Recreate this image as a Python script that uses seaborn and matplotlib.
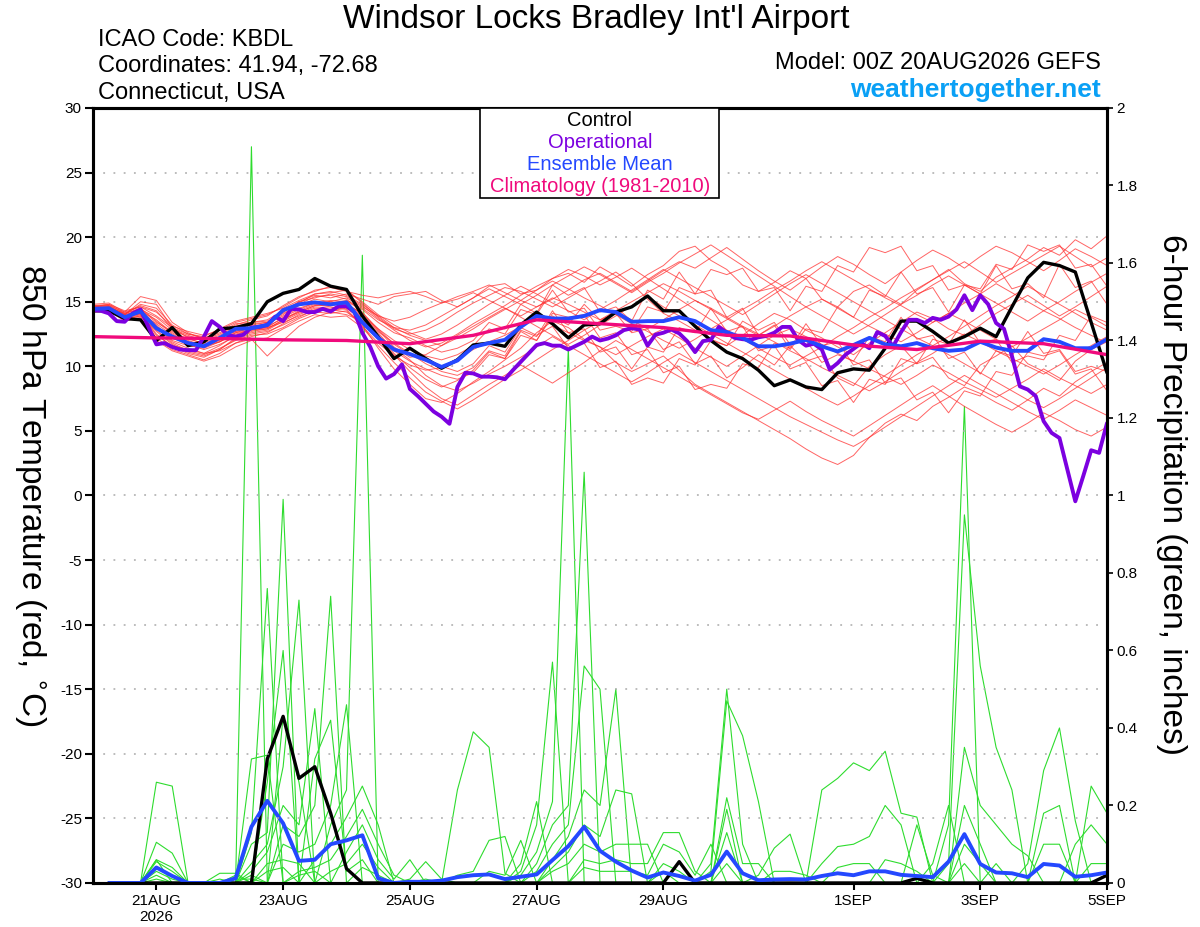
import numpy as np
import pandas as pd
import matplotlib
matplotlib.use('Agg')
import matplotlib.pyplot as plt
from matplotlib.patches import Rectangle
import seaborn as sns

sns.set_style('ticks')
plt.rcParams['font.family'] = ['Liberation Sans', 'DejaVu Sans']
plt.rcParams['axes.unicode_minus'] = False
for key in ['text.color', 'axes.labelcolor', 'xtick.color', 'ytick.color', 'axes.edgecolor']:
    plt.rcParams[key] = 'black'

# time axes (hours after 00Z 20AUG2026)
hours_t = np.arange(0, 385, 6)      # 6-hourly temperatures
hours_op = np.arange(0, 385, 3)     # 3-hourly operational run
hours_p = np.arange(6, 385, 6)      # 6-hour precip totals
hours_clim = np.arange(0, 385, 24)  # daily climatology

xtick_hours = [24, 72, 120, 168, 216, 288, 336, 384]
xtick_labels = ['21AUG\n2026', '23AUG', '25AUG', '27AUG', '29AUG', '1SEP', '3SEP', '5SEP']

# 850 hPa temperature, main lines
control_t = [14.3, 14.3, 13.7, 13.6, 12.0, 13.0, 11.6, 11.9, 12.9, 13.0,
             13.3, 15.0, 15.65, 15.95, 16.8, 16.2, 15.95, 13.9, 12.3, 10.6,
             11.4, 10.6, 9.85, 10.5, 11.65, 11.8, 11.55, 13.2, 14.2, 13.3,
             12.2, 13.2, 13.3, 14.2, 14.6, 15.45, 14.3, 14.3, 13.1, 12.0,
             11.1, 10.6, 9.7, 8.5, 8.95, 8.4, 8.2, 9.5, 9.8, 9.7,
             11.4, 13.5, 13.5, 12.7, 11.8, 12.3, 12.95, 12.3, 14.6, 16.85,
             18.05, 17.8, 17.3, 13.4, 9.5]

operational_t = [14.35, 14.3, 14.1, 13.5, 13.45, 14.1, 14.4, 13.05, 11.7, 11.8,
                 11.5, 11.3, 11.25, 11.25, 12.3, 13.5, 13.05, 12.4, 12.3, 12.45,
                 13.0, 13.05, 13.2, 13.85, 13.5, 14.45, 14.4, 14.2, 14.2, 14.45,
                 14.25, 14.65, 14.65, 14.2, 12.6, 11.5, 10.0, 9.05, 9.4, 10.15,
                 8.25, 7.7, 7.1, 6.5, 6.1, 5.55, 8.4, 9.5, 9.45, 9.2,
                 9.2, 9.15, 9.0, 9.7, 10.35, 11.0, 11.65, 11.8, 11.6, 11.6,
                 11.3, 11.6, 11.9, 12.3, 12.0, 12.15, 12.4, 12.8, 12.95, 12.85,
                 11.6, 12.45, 12.6, 12.85, 12.55, 11.95, 11.1, 11.95, 12.05, 13.05,
                 12.6, 12.2, 12.1, 12.05, 12.25, 12.35, 12.6, 13.05, 13.05, 12.05,
                 11.6, 11.75, 11.3, 9.75, 10.25, 10.9, 11.35, 11.8, 11.4, 12.65,
                 12.35, 11.55, 12.65, 13.6, 13.6, 13.35, 13.75, 13.6, 13.85, 14.4,
                 15.5, 14.35, 15.5, 14.8, 13.35, 12.9, 10.8, 8.45, 8.2, 7.7,
                 5.75, 4.85, 4.45, 2.0, -0.45, 1.5, 3.5, 3.3, 5.6]

mean_t = [14.45, 14.5, 13.8, 14.25, 12.95, 12.3, 11.8, 11.55, 12.2, 12.9,
          12.95, 13.2, 14.35, 14.8, 14.95, 14.8, 14.95, 13.4, 12.2, 11.3,
          10.95, 10.5, 9.95, 10.45, 11.5, 11.8, 12.05, 13.05, 13.9, 13.7,
          13.7, 13.9, 14.35, 14.2, 13.45, 13.5, 13.5, 13.8, 13.5, 12.8,
          12.65, 12.2, 11.55, 11.55, 11.75, 12.05, 11.55, 11.15, 11.65, 12.2,
          11.7, 11.55, 11.8, 11.4, 11.2, 11.3, 11.9, 11.45, 11.2, 11.2,
          12.1, 11.9, 11.4, 11.4, 12.1]

clim_t = [12.3, 12.2, 12.15, 12.05, 12.0, 11.75, 12.4, 13.6, 13.3,
          13.0, 12.4, 12.35, 11.65, 11.3, 11.95, 11.75, 10.9]

# 850 hPa temperature, ensemble members
t_mem01 = [14.6, 14.7, 14.0, 14.3, 13.2, 12.0, 11.6, 11.4, 11.9, 12.6, 13.0, 13.3, 14.2, 15.0, 15.5, 15.3, 15.6, 15.2, 14.8, 15.4, 15.6, 15.8, 15.1, 14.6, 15.3, 16.2, 16.4, 15.6, 15.9, 16.8, 17.2, 16.5, 17.7, 17.0, 16.2, 17.1, 17.8, 18.9, 19.3, 18.2, 17.5, 16.3, 15.8, 16.5, 17.4, 16.8, 15.2, 14.6, 15.8, 16.3, 15.5, 14.8, 15.9, 16.7, 17.5, 16.4, 15.8, 16.9, 17.6, 18.3, 19.2, 18.6, 19.8, 19.1, 20.1]
t_mem02 = [14.4, 14.5, 13.8, 14.1, 12.5, 11.5, 11.0, 10.7, 11.3, 12.2, 12.7, 12.9, 13.6, 14.3, 14.8, 14.6, 14.4, 13.2, 11.4, 9.8, 8.6, 7.5, 7.2, 7.9, 8.8, 9.6, 10.5, 11.4, 12.6, 13.5, 13.0, 12.1, 11.5, 10.3, 9.6, 10.2, 10.8, 9.7, 8.6, 7.9, 7.2, 6.5, 5.8, 5.1, 4.4, 3.6, 2.9, 2.4, 3.1, 4.5, 5.6, 6.3, 5.8, 6.9, 7.6, 8.4, 7.9, 7.2, 6.6, 7.4, 8.3, 7.7, 8.8, 9.6, 10.3]
t_mem03 = [14.8, 14.9, 14.2, 15.4, 15.1, 13.4, 12.6, 12.1, 12.5, 13.2, 13.6, 13.9, 14.7, 15.4, 15.8, 16.2, 15.9, 14.9, 13.8, 12.9, 12.5, 12.8, 13.4, 14.2, 14.9, 15.5, 16.1, 15.8, 15.2, 14.6, 15.3, 16.0, 16.6, 17.3, 16.4, 15.2, 14.1, 13.5, 12.8, 12.1, 11.6, 12.4, 13.3, 14.1, 13.6, 12.8, 12.2, 11.5, 10.9, 11.8, 12.6, 13.4, 14.2, 13.7, 12.9, 12.4, 13.2, 14.1, 14.8, 15.5, 14.7, 13.9, 14.6, 15.4, 16.2]
t_mem04 = [14.3, 14.4, 13.9, 14.0, 12.2, 11.3, 10.9, 10.5, 11.0, 11.8, 12.3, 12.6, 13.3, 14.0, 14.5, 14.4, 14.6, 13.8, 12.6, 11.2, 10.4, 9.8, 9.3, 9.0,
           9.5, 10.9, 10.6, 12.4, 12.0, 13.9, 13.2, 14.8, 13.6, 14.1, 12.6, 12.9, 11.3, 11.9, 10.2, 10.8, 9.1, 9.9, 10.9, 10.1,
           11.6, 10.4, 10.8, 9.1, 8.5, 10.0, 10.9, 11.6, 10.2, 10.7, 9.1, 8.5, 10.1, 10.8, 11.6, 10.2, 9.6, 8.9, 10.4, 11.3, 11.9]
t_mem05 = [14.6, 14.7, 13.6, 14.4, 13.8, 12.8, 12.3, 12.0, 12.4, 13.1, 13.4, 13.5, 14.1, 14.7, 15.2, 15.0, 15.3, 14.6, 13.9, 13.5, 13.8, 14.4, 14.9, 15.4, 15.8, 16.3, 15.7, 15.1, 14.6, 15.2, 15.9, 16.7, 17.2, 16.5, 15.8, 16.6, 17.4, 18.1, 17.6, 18.4, 19.2, 18.3, 17.4, 16.6, 15.9, 16.8, 17.7, 18.5, 17.9, 17.1, 16.4, 17.3, 18.2, 19.0, 18.4, 17.6, 18.5, 19.3, 18.8, 18.1, 17.4, 18.2, 19.1, 18.5, 17.8]
t_mem06 = [14.2, 14.4, 13.7, 13.9, 12.8, 11.8, 11.2, 10.9, 11.4, 12.0, 12.4, 12.5, 13.0, 13.7, 14.2, 14.1, 14.3, 13.1, 11.8, 10.8, 10.1, 9.7, 9.9, 10.6, 11.3, 11.9, 12.4, 13.1, 13.8, 13.2, 12.6, 12.0, 11.5, 10.9, 11.6, 12.3, 12.9, 12.2, 11.4, 10.7, 10.0, 10.8, 11.6, 12.4, 12.9, 12.3, 11.7, 11.0, 10.4, 9.8, 9.2, 8.6, 9.3, 10.1, 9.5, 8.8, 8.2, 7.6, 8.3, 9.0, 9.8, 9.1, 8.5, 7.9, 8.6]
t_mem07 = [14.5, 14.5, 14.1, 14.5, 13.5, 12.5, 11.9, 11.5, 11.9, 12.5, 12.8, 13.0, 13.8, 14.4, 14.9, 15.1, 15.0, 14.4, 13.4, 12.6, 12.2, 11.6, 11.1, 11.4,
           12.0, 13.4, 12.9, 14.8, 14.1, 16.3, 15.5, 16.1, 14.2, 14.6, 13.5, 15.9, 15.2, 17.3, 15.6, 15.9, 13.8, 14.5, 12.4, 13.2,
           11.3, 12.9, 12.6, 14.6, 13.8, 15.9, 15.4, 17.3, 15.6, 16.1, 14.2, 16.3, 15.6, 17.8, 16.0, 16.4, 15.3, 17.9, 16.1, 16.6, 14.8]
t_mem08 = [14.4, 14.6, 13.8, 14.1, 13.1, 11.9, 11.4, 11.0, 11.2, 11.8, 12.1, 10.8, 12.0, 13.1, 13.8, 14.2, 14.0, 13.5, 12.1, 10.9, 9.6, 8.4, 7.5, 7.0, 7.8, 8.6, 9.3, 10.1, 9.4, 8.7, 9.5, 10.3, 11.2, 12.0, 11.3, 10.6, 9.9, 9.2, 8.5, 7.8, 7.1, 6.4, 5.9, 6.6, 7.3, 6.5, 5.8, 5.2, 4.6, 5.4, 6.2, 7.0, 7.8, 8.5, 7.7, 6.9, 6.2, 5.5, 4.9, 5.6, 6.4, 5.8, 5.1, 4.6, 5.3]
t_mem09 = [14.7, 14.8, 14.3, 14.6, 14.2, 13.1, 12.7, 12.4, 12.8, 13.4, 13.7, 14.0, 14.6, 15.3, 15.9, 16.1, 15.8, 15.5, 15.3, 15.6, 15.8, 15.4, 14.9, 15.2, 15.7, 15.1, 14.5, 13.9, 14.6, 15.3, 14.8, 14.2, 13.6, 14.3, 15.0, 15.7, 16.4, 15.8, 15.1, 14.4, 13.7, 13.0, 12.4, 13.1, 13.9, 14.6, 15.2, 14.5, 13.8, 13.1, 12.5, 11.9, 12.6, 13.4, 14.1, 13.5, 12.8, 12.1, 11.5, 12.2, 12.9, 13.6, 14.4, 13.8, 13.1]
t_mem10 = [14.3, 14.3, 13.5, 13.8, 12.0, 11.2, 10.8, 10.4, 10.8, 11.5, 12.0, 12.2, 12.9, 13.5, 14.0, 13.8, 13.9, 13.0, 11.6, 10.3, 9.1, 8.0, 7.3, 6.7, 7.4, 8.2, 9.0, 9.7, 10.5, 11.3, 12.0, 12.8, 13.5, 14.2, 13.6, 12.9, 13.6, 14.4, 15.1, 14.5, 13.8, 13.1, 12.5, 11.9, 11.2, 10.6, 9.9, 9.3, 8.7, 8.1, 8.8, 9.6, 10.3, 11.0, 11.8, 12.5, 11.9, 11.2, 10.6, 10.0, 9.4, 10.1, 10.9, 11.6, 12.3]
t_mem11 = [14.6, 14.6, 14.0, 14.8, 14.5, 13.2, 12.5, 12.2, 12.6, 13.3, 13.4, 13.6, 14.3, 15.0, 15.3, 15.6, 15.4, 14.7, 13.7, 12.8, 12.0, 11.5, 11.8, 12.5, 13.3, 14.0, 14.7, 15.5, 16.2, 16.8, 17.5, 17.0, 16.3, 16.9, 17.6, 16.8, 16.0, 15.2, 14.4, 13.6, 12.8, 12.1, 11.4, 10.7, 10.1, 10.8, 11.5, 12.3, 13.0, 13.8, 14.5, 15.3, 16.0, 16.7, 17.4, 18.1, 17.3, 16.5, 17.2, 17.9, 18.6, 19.3, 18.5, 17.7, 18.4]
t_mem12 = [14.5, 14.5, 13.9, 14.2, 12.9, 12.2, 11.7, 11.3, 11.7, 12.3, 12.6, 12.8, 13.5, 14.1, 14.6, 14.5, 14.8, 14.1, 12.9, 11.7, 10.9, 10.4, 10.0, 9.6,
           10.2, 11.6, 11.1, 13.0, 12.4, 13.1, 11.4, 11.8, 9.9, 10.4, 8.6, 9.1, 8.7, 10.6, 10.1, 12.0, 11.6, 13.5, 12.8, 13.4,
           11.7, 12.0, 10.3, 10.9, 10.4, 12.3, 11.9, 13.8, 12.1, 12.4, 10.6, 11.1, 9.4, 11.2, 10.8, 12.7, 11.0, 11.3, 9.6, 10.0, 9.6]
t_mem13 = [14.4, 14.5, 14.0, 15.0, 14.8, 13.0, 12.2, 11.7, 12.1, 12.9, 13.3, 13.4, 14.0, 14.8, 15.4, 15.5, 15.2, 14.2, 12.8, 11.5, 10.7, 10.9, 11.6, 12.4, 13.1, 13.8, 14.5, 13.8, 13.1, 12.4, 11.7, 12.4, 13.2, 13.9, 14.7, 15.4, 14.6, 13.9, 13.2, 12.5, 11.8, 11.1, 10.4, 9.7, 9.0, 8.3, 7.6, 7.0, 7.7, 8.5, 9.3, 10.1, 10.9, 11.6, 10.9, 10.2, 9.5, 8.8, 8.1, 7.4, 6.8, 7.5, 8.3, 9.1, 9.9]
t_mem14 = [14.6, 14.8, 14.1, 14.4, 13.4, 12.7, 12.1, 11.8, 12.3, 12.7, 12.9, 13.1, 13.7, 14.2, 14.7, 14.9, 15.1, 14.5, 13.6, 13.0, 12.8, 13.2, 13.9, 14.6, 15.3, 16.0, 15.4, 14.8, 15.5, 16.3, 17.0, 17.7, 17.1, 16.4, 15.7, 16.5, 17.2, 18.0, 18.7, 19.4, 18.6, 17.8, 17.0, 16.2, 15.4, 14.6, 13.9, 13.2, 12.5, 13.2, 14.0, 14.8, 15.5, 16.3, 17.0, 16.3, 15.6, 14.9, 14.2, 13.5, 14.3, 15.0, 15.8, 16.5, 17.2]
t_mem15 = [14.3, 14.4, 13.7, 14.0, 12.4, 11.6, 11.3, 11.0, 11.6, 12.4, 12.9, 13.0, 13.4, 13.9, 14.3, 14.4, 14.2, 13.4, 12.4, 11.4, 10.5, 9.3, 8.5, 8.1, 8.7, 9.4, 10.0, 10.7, 11.5, 12.3, 11.6, 10.9, 10.2, 9.5, 8.8, 9.5, 10.3, 11.0, 10.3, 9.6, 8.9, 8.2, 7.5, 6.8, 6.1, 5.5, 4.9, 4.3, 3.8, 4.5, 5.3, 6.1, 6.9, 7.7, 8.5, 9.3, 8.6, 7.9, 7.2, 6.5, 5.9, 6.6, 7.4, 6.8, 6.2]
t_mem16 = [14.5, 14.6, 14.0, 14.3, 13.6, 12.6, 12.0, 11.6, 12.0, 12.7, 13.1, 13.3, 13.9, 14.5, 14.9, 15.0, 14.7, 13.9, 12.9, 12.0, 11.3, 10.8, 10.5, 10.9,
           11.6, 12.9, 12.5, 14.4, 14.0, 15.9, 14.2, 14.5, 12.8, 13.1, 12.7, 14.6, 14.2, 16.1, 15.6, 17.5, 17.1, 17.6, 15.8, 16.1,
           14.3, 16.2, 15.8, 17.8, 17.3, 19.2, 18.8, 19.3, 17.4, 17.8, 15.9, 16.3, 16.0, 17.9, 17.5, 19.4, 18.9, 19.4, 17.6, 17.9, 16.2]
t_mem17 = [14.7, 14.7, 14.2, 14.6, 13.9, 13.0, 12.5, 12.3, 12.9, 13.5, 13.8, 14.1, 14.5, 15.1, 15.6, 15.7, 15.9, 15.0, 14.0, 13.2, 12.6, 12.1, 12.5, 13.2, 14.0, 14.8, 15.5, 16.2, 15.6, 14.9, 14.3, 13.6, 14.4, 15.1, 15.9, 16.7, 17.5, 16.8, 16.1, 15.4, 14.7, 14.0, 14.8, 15.6, 16.4, 17.1, 16.4, 15.7, 15.0, 14.3, 13.6, 12.9, 12.2, 11.6, 12.3, 13.1, 13.9, 14.7, 15.4, 16.2, 15.5, 14.8, 14.1, 13.4, 12.8]
t_mem18 = [14.2, 14.3, 13.6, 13.9, 12.7, 11.7, 11.1, 10.8, 11.3, 12.1, 12.5, 12.7, 13.2, 13.8, 14.4, 14.3, 14.5, 13.6, 12.3, 11.0, 9.9, 9.0, 8.4, 8.9,
           9.7, 11.1, 10.6, 12.7, 12.0, 14.1, 13.8, 14.0, 12.2, 12.6, 10.9, 11.3, 9.5, 10.0, 8.2, 8.6, 8.3, 10.2, 9.9, 11.8,
           11.4, 13.3, 11.6, 11.9, 10.1, 10.5, 8.7, 9.1, 7.4, 8.0, 6.4, 8.1, 7.7, 9.6, 9.3, 11.1, 10.8, 11.2, 9.4, 9.8, 8.1]
t_mem19 = [14.5, 14.6, 14.1, 14.7, 14.3, 12.9, 12.4, 12.0, 12.2, 12.9, 13.2, 13.4, 14.2, 14.9, 15.6, 15.8, 15.5, 14.8, 13.9, 13.0, 12.4, 12.0, 11.6, 12.2, 12.9, 13.7, 14.4, 15.1, 15.9, 16.6, 16.0, 15.3, 14.7, 14.0, 13.3, 12.7, 12.0, 11.4, 12.1, 12.9, 13.6, 14.4, 15.1, 15.9, 16.6, 17.4, 18.1, 17.4, 16.7, 16.0, 15.3, 14.7, 14.0, 13.4, 14.1, 14.9, 15.6, 16.4, 15.7, 15.0, 14.3, 13.7, 13.0, 12.4, 11.8]
t_mem20 = [14.4, 14.5, 13.8, 14.1, 13.3, 12.4, 11.9, 11.6, 11.9, 12.6, 12.8, 12.9, 13.6, 14.2, 14.7, 14.7, 14.9, 14.0, 12.7, 11.8, 11.0, 10.2, 9.6, 9.3,
           9.9, 11.2, 10.8, 12.8, 12.3, 14.3, 12.6, 12.9, 11.1, 11.5, 9.8, 11.5, 11.1, 13.0, 12.6, 14.5, 12.7, 13.1, 11.2, 11.6,
           9.8, 10.3, 8.5, 8.9, 7.2, 9.0, 8.6, 10.6, 10.2, 12.1, 11.7, 13.6, 11.8, 12.1, 10.3, 10.8, 10.5, 12.4, 12.0, 13.9, 13.4]

# 6-hour precipitation (inches), main lines
control_p = [0, 0, 0, 0, 0, 0, 0, 0,
             0, 0, 0.32, 0.43, 0.27, 0.30, 0.18, 0.037,
             0, 0, 0, 0, 0, 0, 0, 0,
             0, 0, 0, 0, 0, 0, 0, 0,
             0, 0, 0, 0, 0.055, 0, 0, 0,
             0, 0, 0, 0, 0, 0, 0, 0,
             0, 0, 0, 0.012, 0, 0, 0, 0,
             0, 0, 0, 0, 0, 0, 0, 0.02]

mean_p = [0, 0, 0, 0.04, 0.018, 0, 0, 0,
          0.012, 0.145, 0.212, 0.154, 0.057, 0.06, 0.10, 0.11,
          0.123, 0.012, 0, 0.003, 0.003, 0.006, 0.015, 0.02,
          0.022, 0.01, 0.016, 0.022, 0.059, 0.095, 0.145, 0.083,
          0.055, 0.032, 0.014, 0.027, 0.018, 0.006, 0.021, 0.081,
          0.025, 0.007, 0.009, 0.01, 0.009, 0.018, 0.025, 0.02,
          0.03, 0.03, 0.021, 0.018, 0.015, 0.055, 0.126, 0.049,
          0.027, 0.025, 0.015, 0.049, 0.045, 0.016, 0.02, 0.027]

# 6-hour precipitation, ensemble members
p_mem01 = [0, 0, 0, .26, .25, 0, 0, 0, 0, 0, 0, 0, 0, .32, .42, .03,
           .06, 0, 0, 0, .01, 0, .24, .39, .35, .025, 0, 0, 0, 0, 0, 0,
           0, 0, 0, 0, 0, 0, 0, .19, 0, .02, .09, .126, 0, 0, 0, 0,
           0, 0, 0, 0, 0, 0, 0, 0, 0, 0, 0, .10, .10, 0, 0, 0]
p_mem02 = [0, 0, 0, .105, .077, 0, 0, 0, 0, .32, .33, 0, 0, 0, 0, 0,
           .04, .02, 0, 0, 0, 0, .02, .03, .11, .12, 0, 0, 0, 0, 0, 0,
           0, 0, 0, 0, 0, 0, 0, .13, 0, 0, .03, .03, .02, 0, 0, 0,
           0, 0, 0, 0, 0, 0, 0, 0, 0, 0, 0, 0, 0, .10, .15, .10]
p_mem03 = [0, 0, 0, .06, .04, 0, 0, .025, .025, 0, .26, .60, 0, 0, 0, 0,
           0, 0, 0, 0, 0, 0, 0, 0, .03, .02, .11, 0, 0, 0, 0, 0,
           0, 0, 0, 0, 0, 0, 0, .05, 0, 0, 0, 0, 0, .24, .27, .31,
           .29, .34, .18, .17, 0, 0, 0, 0, 0, 0, 0, 0, 0, 0, .05, .05]
p_mem04 = [0, 0, 0, .06, 0, 0, 0, 0, .02, 0, 0, .43, .26, 0, 0, 0,
           0, 0, 0, 0, 0, 0, 0, 0, 0, 0, .05, .21, 0, 0, 0, 0,
           0, 0, 0, 0, 0, 0, 0, 0, 0, 0, 0, 0, 0, .05, .094, .10,
           .12, .20, .15, 0, 0, 0, 0, 0, 0, 0, 0, 0, 0, 0, 0, 0]
p_mem05 = [0, 0, 0, .055, .03, 0, 0, 0, 0, 1.90, 0, 0, 0, 0, 0, 0,
           0, 0, 0, 0, 0, 0, 0, 0, 0, 0, .03, .15, .57, 0, 0, 0,
           0, 0, 0, 0, 0, 0, 0, 0, 0, 0, 0, 0, 0, 0, .04, .05,
           .05, 0, 0, 0, 0, 0, 0, 0, 0, 0, 0, 0, 0, 0, 0, 0]
p_mem06 = [0, 0, 0, .04, .02, 0, 0, 0, 0, .13, .76, 0, 0, 0, 0, 0,
           0, 0, 0, 0, 0, 0, 0, 0, 0, 0, .02, .08, .21, 1.38, 0, 0,
           0, 0, 0, 0, 0, 0, 0, 0, 0, 0, 0, 0, 0, 0, 0, 0,
           0, .06, .05, .03, 0, 0, 0, 0, 0, 0, 0, 0, 0, 0, 0, 0]
p_mem07 = [0, 0, 0, .03, .01, 0, 0, 0, 0, .10, .13, .99, 0, 0, 0, 0,
           0, 0, 0, 0, 0, 0, 0, 0, 0, 0, 0, .05, .15, .20, 1.06, 0,
           0, 0, 0, 0, 0, 0, 0, 0, 0, 0, 0, 0, 0, 0, 0, 0,
           0, 0, 0, .15, .02, 0, 0, 0, 0, 0, 0, 0, 0, 0, 0, 0]
p_mem08 = [0, 0, 0, .02, 0, 0, 0, 0, 0, .05, .10, .30, .73, 0, 0, 0,
           0, 0, 0, 0, 0, 0, 0, 0, 0, 0, 0, .03, .10, .15, .56, .50,
           0, 0, 0, 0, 0, 0, 0, 0, 0, 0, 0, 0, 0, 0, 0, 0,
           0, 0, 0, 0, .05, .20, 0, 0, 0, 0, 0, 0, 0, 0, 0, 0]
p_mem09 = [0, 0, 0, .01, 0, 0, 0, 0, 0, .03, .08, .20, .15, .45, 0, 0,
           0, 0, 0, 0, 0, 0, 0, 0, 0, 0, 0, 0, .06, .12, .24, .20,
           .50, 0, 0, 0, 0, 0, 0, 0, 0, 0, 0, 0, 0, 0, 0, 0,
           0, 0, 0, 0, 0, .15, 1.23, 0, 0, 0, 0, 0, 0, 0, 0, 0]
p_mem10 = [0, 0, 0, 0, 0, 0, 0, .01, 0, .02, 0, .15, .12, .20, .74, 0,
           0, 0, 0, 0, 0, 0, 0, 0, 0, 0, 0, 0, .04, .08, .15, .12,
           .24, .23, 0, 0, 0, 0, 0, 0, 0, 0, 0, 0, 0, 0, 0, 0,
           0, 0, 0, 0, 0, .05, .95, .56, .35, .24, 0, 0, 0, 0, 0, 0]
p_mem11 = [0, 0, 0, 0, 0, 0, 0, 0, .01, .01, 0, .10, .08, .10, .20, .46,
           0, 0, 0, 0, 0, 0, 0, 0, 0, 0, 0, 0, .03, .05, .10, .08,
           .10, .10, .10, 0, 0, 0, 0, 0, 0, 0, 0, 0, 0, 0, 0, 0,
           0, 0, 0, 0, 0, 0, .35, .20, .15, .10, .07, 0, 0, 0, 0, 0]
p_mem12 = [0, 0, 0, 0, 0, 0, 0, 0, 0, 0, .05, .06, .05, 0, .15, .24,
           1.62, 0, 0, 0, 0, 0, 0, 0, 0, 0, 0, 0, 0, 0, .06, .05,
           .06, .05, .05, .13, .13, .03, 0, 0, 0, 0, 0, 0, 0, 0, 0, 0,
           0, 0, 0, 0, 0, 0, .20, .10, 0, 0, 0, 0, 0, 0, 0, 0]
p_mem13 = [0, 0, 0, 0, 0, 0, 0, 0, 0, 0, .03, .04, 0, .06, .10, .17,
           .25, .15, 0, 0, 0, 0, 0, 0, 0, 0, 0, 0, 0, 0, .04, .03,
           .03, .03, .02, .10, .08, .02, .10, 0, 0, 0, 0, 0, 0, 0, 0, 0,
           0, 0, 0, 0, 0, 0, .10, .05, 0, 0, 0, 0, 0, 0, 0, 0]
p_mem14 = [0, 0, 0, 0, 0, 0, 0, 0, 0, 0, 0, 0, .03, .04, .06, .12,
           .19, .10, .02, 0, 0, 0, 0, 0, 0, 0, 0, 0, 0, 0, 0, 0,
           0, 0, 0, .05, .03, 0, .05, .50, .10, 0, 0, 0, 0, 0, 0, 0,
           0, 0, 0, 0, 0, 0, .05, 0, .05, 0, 0, 0, 0, 0, 0, 0]
p_mem15 = [0, 0, 0, 0, 0, 0, 0, 0, 0, 0, 0, 0, .02, .03, 0, .08,
           .15, .06, .01, .06, 0, 0, 0, 0, 0, 0, 0, 0, 0, 0, 0, 0,
           0, 0, 0, .03, 0, 0, .03, .47, .38, .21, 0, 0, 0, 0, 0, 0,
           0, 0, 0, 0, 0, 0, 0, 0, 0, 0, .05, .29, .40, .16, 0, 0]
p_mem16 = [0, 0, 0, 0, 0, 0, 0, 0, 0, 0, 0, 0, 0, 0, .03, .05,
           .10, .04, 0, .01, .055, .01, 0, 0, 0, 0, 0, 0, 0, 0, 0, 0,
           0, 0, 0, 0, 0, 0, 0, .22, .05, .05, 0, 0, 0, 0, 0, 0,
           0, 0, 0, 0, 0, 0, 0, 0, 0, 0, 0, .18, .20, 0, .25, .18]

temp_members = [t_mem01, t_mem02, t_mem03, t_mem04, t_mem05, t_mem06, t_mem07,
                t_mem08, t_mem09, t_mem10, t_mem11, t_mem12, t_mem13, t_mem14,
                t_mem15, t_mem16, t_mem17, t_mem18, t_mem19, t_mem20]
precip_members = [p_mem01, p_mem02, p_mem03, p_mem04, p_mem05, p_mem06, p_mem07,
                  p_mem08, p_mem09, p_mem10, p_mem11, p_mem12, p_mem13, p_mem14,
                  p_mem15, p_mem16]

bad = [(k, len(m)) for k, m in enumerate(temp_members) if len(m) != len(hours_t)]
bad += [('p', k, len(m)) for k, m in enumerate(precip_members) if len(m) != len(hours_p)]
if bad:
    raise ValueError(f'length mismatch: {bad}')

temp_df = pd.DataFrame({
    'hour': np.tile(hours_t, len(temp_members)),
    'member': np.repeat(np.arange(len(temp_members)), len(hours_t)),
    'temp': np.concatenate(temp_members),
})
precip_df = pd.DataFrame({
    'hour': np.tile(hours_p, len(precip_members)),
    'member': np.repeat(np.arange(len(precip_members)), len(hours_p)),
    'precip': np.concatenate(precip_members),
})

fig = plt.figure(figsize=(12, 9.27), dpi=100)
ax_t = fig.add_axes([0.0775, 0.0475, 0.845, 0.836])
ax_p = ax_t.twinx()
# temperature axis on top of the precipitation axis
ax_t.set_zorder(ax_p.get_zorder() + 1)
ax_t.patch.set_visible(False)

# precipitation (right axis)
sns.lineplot(data=precip_df, x='hour', y='precip', units='member', estimator=None,
             color='#2edc2e', lw=0.8, ax=ax_p, legend=False)
sns.lineplot(x=hours_p, y=control_p, color='black', lw=2.4, ax=ax_p)
sns.lineplot(x=hours_p, y=mean_p, color='#2448ff', lw=2.8, ax=ax_p)

# temperature (left axis)
sns.lineplot(data=temp_df, x='hour', y='temp', units='member', estimator=None,
             color='#ff3030', alpha=0.75, lw=0.7, ax=ax_t, legend=False)
sns.lineplot(x=hours_t, y=control_t, color='black', lw=2.4, ax=ax_t)
sns.lineplot(x=hours_op, y=operational_t, color='#7c00e0', lw=2.8, ax=ax_t)
sns.lineplot(x=hours_t, y=mean_t, color='#2448ff', lw=2.8, ax=ax_t)
sns.lineplot(x=hours_clim, y=clim_t, color='#f00a7c', lw=2.4, ax=ax_t)

ax_t.set_xlim(0, 384)
ax_t.set_ylim(-30, 30)
ax_p.set_ylim(0, 2)
ax_t.set_yticks(np.arange(-30, 31, 5))
ax_p.set_yticks(np.arange(0, 2.01, 0.2))
ax_p.set_yticklabels(['0', '0.2', '0.4', '0.6', '0.8', '1', '1.2', '1.4', '1.6', '1.8', '2'])
ax_t.set_xticks(xtick_hours)
ax_t.set_xticklabels(xtick_labels)
ax_t.set_xlabel('')
ax_t.set_ylabel('')
ax_p.set_ylabel('')
ax_t.yaxis.grid(True, linestyle=(0, (1.2, 5.5)), color='#aaaaaa', lw=1.1)
ax_t.tick_params(axis='y', direction='out', length=6, width=1.5, labelsize=11, pad=2)
ax_t.tick_params(axis='x', direction='out', length=5, width=1.5, labelsize=11, pad=3)
ax_p.tick_params(axis='y', direction='out', length=4, width=1.2, labelsize=11, pad=3)
for a in (ax_t, ax_p):
    for sp in a.spines.values():
        sp.set_linewidth(2.2)
        sp.set_color('black')

# titles and station info
fig.text(0.497, 0.979, "Windsor Locks Bradley Int'l Airport", ha='center', va='center', fontsize=24)
fig.text(98 / 1200, 1 - 40 / 927, 'ICAO Code: KBDL', ha='left', va='center', fontsize=17)
fig.text(98 / 1200, 1 - 66 / 927, 'Coordinates: 41.94, -72.68', ha='left', va='center', fontsize=17)
fig.text(98 / 1200, 1 - 93 / 927, 'Connecticut, USA', ha='left', va='center', fontsize=17)
fig.text(1101 / 1200, 1 - 63 / 927, 'Model: 00Z 20AUG2026 GEFS', ha='right', va='center', fontsize=17)
fig.text(1101 / 1200, 1 - 90 / 927, 'weathertogether.net', ha='right', va='center',
         fontsize=19, fontweight='bold', color='#0aa0f5')

fig.text(30 / 1200, 1 - 495 / 927, r'850 hPa Temperature (red, $^{\circ}$C)', rotation=270,
         ha='center', va='center', fontsize=24)
fig.text(1172 / 1200, 1 - 495 / 927, '6-hour Precipitation (green, inches)', rotation=270,
         ha='center', va='center', fontsize=24)

# legend box
fig.patches.append(Rectangle((480 / 1200, 1 - 198 / 927), 239 / 1200, 90 / 927,
                             transform=fig.transFigure, facecolor='white',
                             edgecolor='black', lw=1.2, zorder=5))
legend_items = [('Control', 'black', 121), ('Operational', '#7c00e0', 142),
                ('Ensemble Mean', '#2448ff', 164), ('Climatology (1981-2010)', '#f00a7c', 186)]
for label, col, ypix in legend_items:
    fig.text(600 / 1200, 1 - ypix / 927, label, color=col, ha='center', va='center',
             fontsize=14.5, zorder=6)

fig.savefig('out.png', dpi=100)
